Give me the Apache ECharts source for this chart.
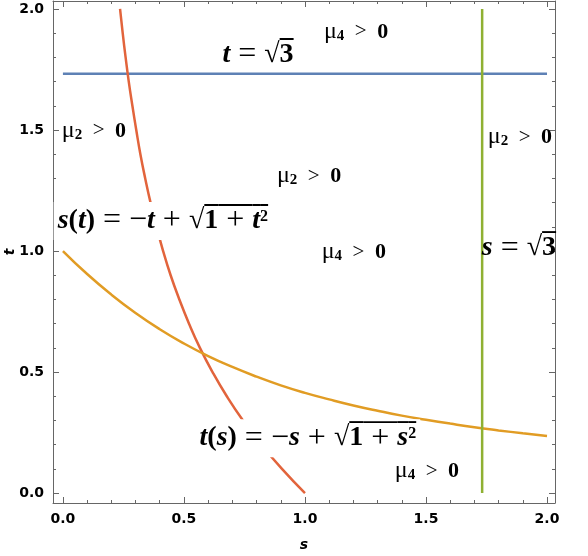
<!DOCTYPE html>
<html>
<head>
<meta charset="utf-8">
<script src="https://cdn.jsdelivr.net/npm/echarts@6/dist/echarts.min.js"></script>
<style>
  html, body { margin: 0; padding: 0; background: #fff; }
  #chart { width: 588px; height: 556px; }
</style>
</head>
<body>
<div id="chart"></div>
<script>
// values
const sVals = [0, 0.1, 0.2, 0.3, 0.4, 0.5, 0.6, 0.7, 0.8, 0.9, 1.0,
  1.1, 1.2, 1.3, 1.4, 1.5, 1.6, 1.7, 1.8, 1.9, 2.0];
const tOfS = [1.0, 0.905, 0.82, 0.744, 0.677, 0.618, 0.566, 0.521, 0.481, 0.445, 0.414,
  0.387, 0.362, 0.34, 0.32, 0.303, 0.287, 0.272, 0.259, 0.247, 0.236];
const tVals = [0, 0.1, 0.2, 0.3, 0.4, 0.5, 0.6, 0.7, 0.8, 0.9, 1.0,
  1.1, 1.2, 1.3, 1.4, 1.5, 1.6, 1.7, 1.8, 1.9, 2.0];
const sOfT = [1.0, 0.905, 0.82, 0.744, 0.677, 0.618, 0.566, 0.521, 0.481, 0.445, 0.414,
  0.387, 0.362, 0.34, 0.32, 0.303, 0.287, 0.272, 0.259, 0.247, 0.236];
const blueLine = [[0, 1.732], [2, 1.732]];   // t = sqrt(3)
const greenLine = [[1.732, 0], [1.732, 2]];  // s = sqrt(3)

const majorTicks = [0, 0.5, 1, 1.5, 2];
const minorTicks = [0, 0.1, 0.2, 0.3, 0.4, 0.5, 0.6, 0.7, 0.8, 0.9, 1.0,
  1.1, 1.2, 1.3, 1.4, 1.5, 1.6, 1.7, 1.8, 1.9, 2.0];

const mu = k => '{mu|μ}{sub|' + k + '}{gt|  >  }{z|0}';
const notes = [
  [0.806, 1.81, '{v|t}{o| = }{n|√}{ovn|3}', false],
  [1.211, 1.905, mu(4), false],
  [0.128, 1.496, mu(2), false],
  [1.888, 1.471, mu(2), false],
  [1.017, 1.31, mu(2), false],
  [0.413, 1.124, '{v|s}{n|(}{v|t}{n|)}{o| = −}{v|t}{o| + }{n|√}{ovn|1}{ovo| + }{ovv|t}{ovs|2}', true],
  [1.202, 0.996, mu(4), false],
  [1.884, 1.012, '{v|s}{o| = }{n|√}{ovn|3}', false],
  [1.012, 0.227, '{v|t}{n|(}{v|s}{n|)}{o| = −}{v|s}{o| + }{n|√}{ovn|1}{ovo| + }{ovv|s}{ovs|2}', true],
  [1.504, 0.091, mu(4), false]
];

const xMin = -0.041, xMax = 2.033, yMin = -0.041, yMax = 2.033;
const frame = '#666';
const SERIF = 'Liberation Serif';

function overline(frac) {
  return new echarts.graphic.LinearGradient(0, 0, 0, 1, [
    { offset: 0, color: '#000' },
    { offset: frac, color: '#000' },
    { offset: frac, color: 'rgba(255,255,255,0)' },
    { offset: 1, color: 'rgba(255,255,255,0)' }
  ]);
}

const big = 28, op = 32, boxH = 34, supH = 26;
const rich = {
  v: { fontFamily: SERIF, fontStyle: 'italic', fontWeight: 'bold', fontSize: big, color: '#000', height: boxH },
  n: { fontFamily: SERIF, fontWeight: 'bold', fontSize: big, color: '#000', height: boxH },
  o: { fontFamily: SERIF, fontSize: op, color: '#000', height: boxH },
  ovv: { fontFamily: SERIF, fontStyle: 'italic', fontWeight: 'bold', fontSize: big, color: '#000', height: boxH, backgroundColor: overline(2 / boxH) },
  ovn: { fontFamily: SERIF, fontWeight: 'bold', fontSize: big, color: '#000', height: boxH, backgroundColor: overline(2 / boxH) },
  ovo: { fontFamily: SERIF, fontSize: op, color: '#000', height: boxH, backgroundColor: overline(2 / boxH) },
  ovs: { fontFamily: SERIF, fontWeight: 'bold', fontSize: 16, color: '#000', verticalAlign: 'top', height: supH, backgroundColor: overline(2 / supH) },
  mu: { fontFamily: SERIF, fontSize: 24, color: '#000' },
  sub: { fontFamily: SERIF, fontWeight: 'bold', fontSize: 15, color: '#000', verticalAlign: 'bottom', padding: [7, 0, 0, 0] },
  gt: { fontFamily: SERIF, fontSize: 21, color: '#000' },
  z: { fontFamily: SERIF, fontWeight: 'bold', fontSize: 22, color: '#000' }
};

function zip(a, b) {
  return a.map((v, i) => [v, b[i]]);
}

function xAxisDef(pos, ticks, len, withLine, withLabel) {
  return {
    type: 'value', position: pos, min: xMin, max: xMax,
    axisLine: { show: withLine, onZero: false, lineStyle: { color: frame, width: 1 } },
    axisTick: { inside: true, length: len, customValues: ticks, lineStyle: { color: frame } },
    axisLabel: withLabel ? {
      customValues: majorTicks, margin: 9, color: '#000', fontWeight: 'bold',
      fontFamily: 'DejaVu Sans', fontSize: 14, formatter: v => v.toFixed(1)
    } : { show: false },
    splitLine: { show: false }
  };
}
function yAxisDef(pos, ticks, len, withLine, withLabel) {
  const a = xAxisDef(pos, ticks, len, withLine, withLabel);
  a.min = yMin; a.max = yMax;
  return a;
}

const nameStyle = { fontFamily: 'DejaVu Sans', fontStyle: 'italic', fontWeight: 'bold', fontSize: 14, color: '#000' };
const xs = [
  xAxisDef('bottom', majorTicks, 6, true, true),
  xAxisDef('bottom', minorTicks, 3, false, false),
  xAxisDef('top', majorTicks, 6, true, false),
  xAxisDef('top', minorTicks, 3, false, false)
];
Object.assign(xs[0], { name: 's', nameLocation: 'middle', nameGap: 35, nameMoveOverlap: false, nameTextStyle: nameStyle });
const ys = [
  yAxisDef('left', majorTicks, 6, true, true),
  yAxisDef('left', minorTicks, 3, false, false),
  yAxisDef('right', majorTicks, 6, true, false),
  yAxisDef('right', minorTicks, 3, false, false)
];
Object.assign(ys[0], { name: 't', nameLocation: 'middle', nameGap: 36, nameMoveOverlap: false, nameTextStyle: nameStyle });

const chart = echarts.init(document.getElementById('chart'));
chart.setOption({
  animation: false,
  backgroundColor: '#fff',
  grid: { left: 53, top: 1, width: 502, height: 502, containLabel: false, outerBoundsMode: 'none' },
  xAxis: xs,
  yAxis: ys,
  series: [
    {
      name: 'blue', type: 'line', data: blueLine, showSymbol: false,
      lineStyle: { color: '#5E81B5', width: 2.5 }
    },
    {
      name: 'red', type: 'line', data: zip(sOfT, tVals), showSymbol: false, smooth: true,
      lineStyle: { color: '#E2643C', width: 2.5 }
    },
    {
      name: 'yellow', type: 'line', data: zip(sVals, tOfS), showSymbol: false, smooth: true,
      lineStyle: { color: '#E19C24', width: 2.5 }
    },
    {
      name: 'green', type: 'line', data: greenLine, showSymbol: false,
      lineStyle: { color: '#8FB032', width: 2.5 }
    },
    {
      name: 'notes', type: 'scatter', z: 10, symbolSize: 0, silent: true,
      itemStyle: { opacity: 1 },
      data: notes.map(d => ({
        value: [d[0], d[1]],
        label: {
          show: true, position: 'inside', formatter: d[2], rich: rich,
          backgroundColor: d[3] ? '#fff' : 'transparent', padding: d[3] ? [2, 4] : 0
        }
      }))
    }
  ]
});
</script>
</body>
</html>
